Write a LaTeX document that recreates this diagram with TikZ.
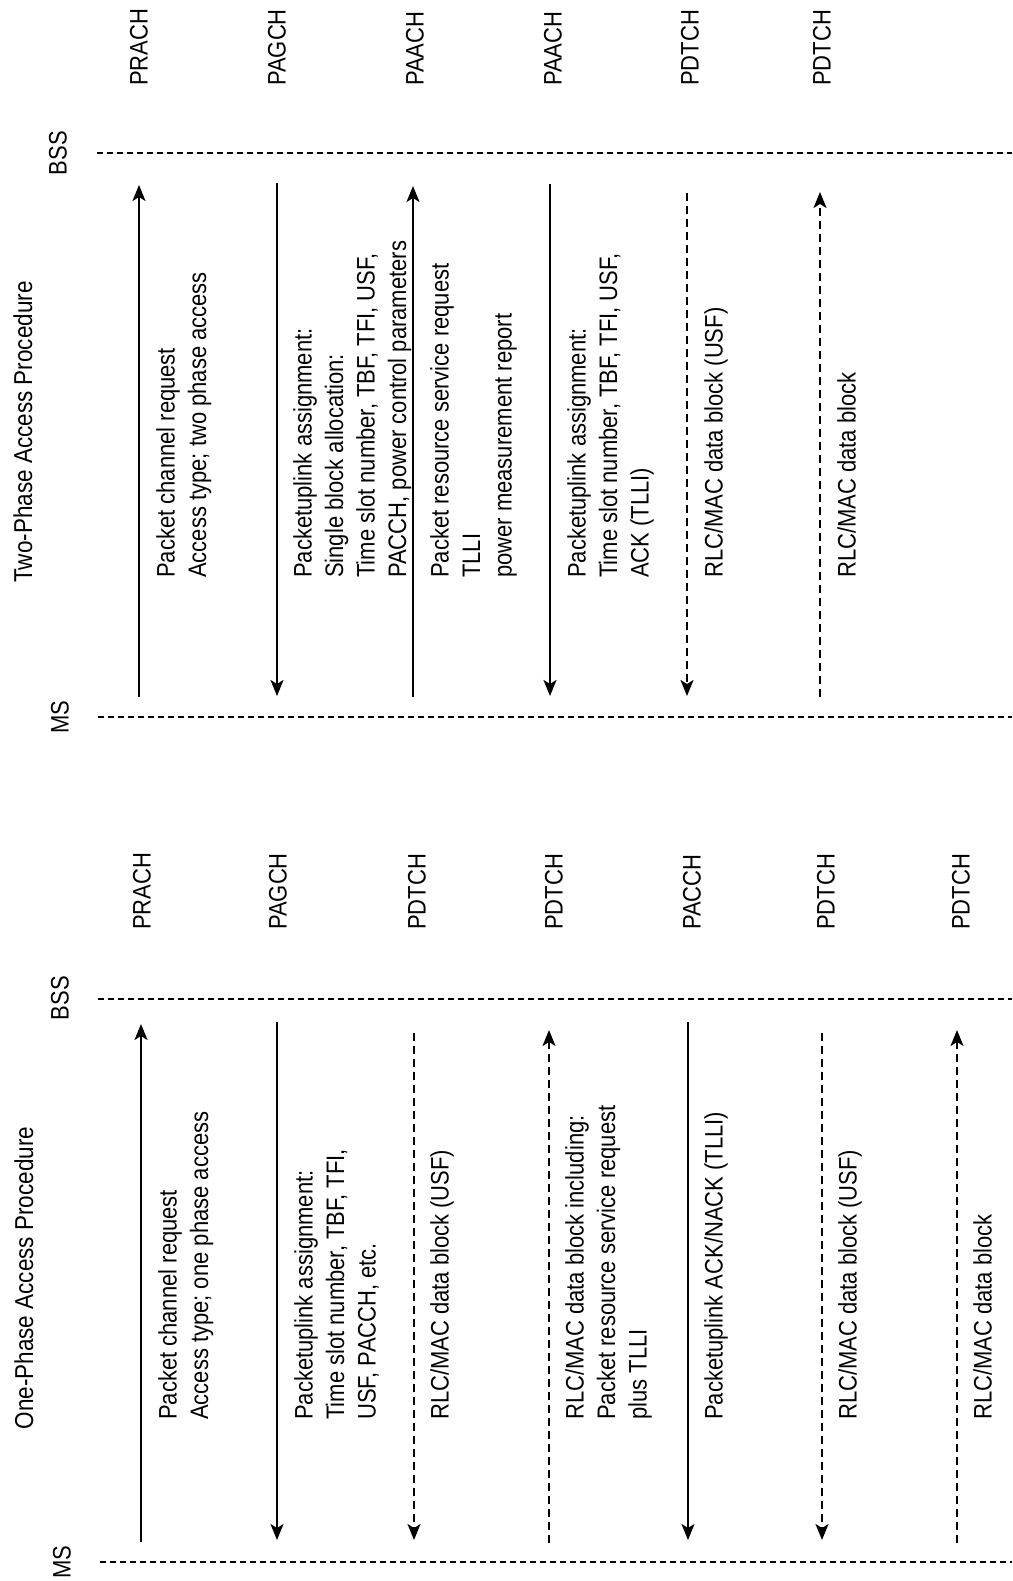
\documentclass[tikz,border=0pt]{standalone}
\usepackage{fontspec}
\setmainfont{Liberation Sans}
\usetikzlibrary{arrows.meta}

\begin{document}
\begin{tikzpicture}[x=1pt, y=-1pt,
  ttl/.style={rotate=90, yscale=1.15, inner sep=0pt, font=\fontsize{22.5}{26}\selectfont},
  ent/.style={rotate=90, yscale=1.15, inner sep=0pt, font=\fontsize{22}{26}\selectfont},
  chan/.style={rotate=90, yscale=1.15, anchor=west, inner sep=0pt, font=\fontsize{22}{26}\selectfont},
  msg/.style={rotate=90, yscale=1.15, anchor=north west, align=left, inner sep=0pt, font=\fontsize{22}{27.4}\selectfont},
  life/.style={line width=1.8pt, dash pattern=on 6pt off 4pt},
  arr/.style={-{Stealth[length=16pt, width=13pt, inset=4pt]}, line width=2pt},
  darr/.style={arr, dash pattern=on 8pt off 5pt},
]
\useasboundingbox (0,0) rectangle (1012,1581);

% two-phase access procedure (upper half)
\node[ttl] (ttlB) at (23,432) {Two-Phase Access Procedure};
\node[ent] (bssB) at (58,153) {BSS};
\node[ent] (msB)  at (60,717) {MS};
\coordinate (bssB0) at (97,153);  \coordinate (bssB1) at (1012,153);
\coordinate (msB0)  at (98,717);  \coordinate (msB1)  at (1012,717);
\draw[life] (bssB0) -- (bssB1);
\draw[life] (msB0) -- (msB1);

\node[chan] (chB1) at (139,86) {PRACH};
\node[chan] (chB2) at (277,86) {PAGCH};
\node[chan] (chB3) at (415,86) {PAACH};
\node[chan] (chB4) at (553,86) {PAACH};
\node[chan] (chB5) at (690,86) {PDTCH};
\node[chan] (chB6) at (822,86) {PDTCH};

\coordinate (aB1t) at (139,185); \coordinate (aB1m) at (139,697);
\coordinate (aB2t) at (277,183); \coordinate (aB2m) at (277,696);
\coordinate (aB3t) at (413,186); \coordinate (aB3m) at (413,697);
\coordinate (aB4t) at (550,184); \coordinate (aB4m) at (550,696);
\coordinate (aB5t) at (687,193); \coordinate (aB5m) at (687,696);
\coordinate (aB6t) at (820,192); \coordinate (aB6m) at (820,697);
\draw[arr]  (aB1m) -- (aB1t);
\draw[arr]  (aB2t) -- (aB2m);
\draw[arr]  (aB3m) -- (aB3t);
\draw[arr]  (aB4t) -- (aB4m);
\draw[darr] (aB5t) -- (aB5m);
\draw[darr] (aB6m) -- (aB6t);

\node[msg] (mB1) at (156,578) {Packet channel request\\Access type; two phase access};
\node[msg] (mB2) at (293,578) {Packetuplink assignment:\\Single block allocation:\\Time slot number, TBF, TFI, USF,\\PACCH, power control parameters};
\node[msg] (mB3) at (430,578) {Packet resource service request\\TLLI\\power measurement report};
\node[msg] (mB4) at (567,578) {Packetuplink assignment:\\Time slot number, TBF, TFI, USF,\\ACK (TLLI)};
\node[msg] (mB5) at (704,578) {RLC/MAC data block (USF)};
\node[msg] (mB6) at (837,578) {RLC/MAC data block};

% one-phase access procedure (lower half)
\node[ttl] (ttlA) at (24,1278) {One-Phase Access Procedure};
\node[ent] (bssA) at (60,998)  {BSS};
\node[ent] (msA)  at (62,1562) {MS};
\coordinate (bssA0) at (98,999);   \coordinate (bssA1) at (1012,999);
\coordinate (msA0)  at (100,1562); \coordinate (msA1)  at (1012,1562);
\draw[life] (bssA0) -- (bssA1);
\draw[life] (msA0) -- (msA1);

\node[chan] (chA1) at (142,930) {PRACH};
\node[chan] (chA2) at (278,930) {PAGCH};
\node[chan] (chA3) at (417,930) {PDTCH};
\node[chan] (chA4) at (554,930) {PDTCH};
\node[chan] (chA5) at (692,930) {PACCH};
\node[chan] (chA6) at (826,930) {PDTCH};
\node[chan] (chA7) at (961,930) {PDTCH};

\coordinate (aA1t) at (141,1024); \coordinate (aA1m) at (141,1542);
\coordinate (aA2t) at (277,1022); \coordinate (aA2m) at (277,1540);
\coordinate (aA3t) at (414,1033); \coordinate (aA3m) at (414,1540);
\coordinate (aA4t) at (549,1030); \coordinate (aA4m) at (549,1543);
\coordinate (aA5t) at (688,1022); \coordinate (aA5m) at (688,1540);
\coordinate (aA6t) at (822,1033); \coordinate (aA6m) at (822,1540);
\coordinate (aA7t) at (957,1030); \coordinate (aA7m) at (957,1543);
\draw[arr]  (aA1m) -- (aA1t);
\draw[arr]  (aA2t) -- (aA2m);
\draw[darr] (aA3t) -- (aA3m);
\draw[darr] (aA4m) -- (aA4t);
\draw[arr]  (aA5t) -- (aA5m);
\draw[darr] (aA6t) -- (aA6m);
\draw[darr] (aA7m) -- (aA7t);

\node[msg] (mA1) at (158,1420) {Packet channel request\\Access type; one phase access};
\node[msg] (mA2) at (294,1420) {Packetuplink assignment:\\Time slot number, TBF, TFI,\\USF, PACCH, etc.};
\node[msg] (mA3) at (430,1420) {RLC/MAC data block (USF)};
\node[msg] (mA4) at (565,1420) {RLC/MAC data block including:\\Packet resource service request\\plus TLLI};
\node[msg] (mA5) at (704,1420) {Packetuplink ACK/NACK (TLLI)};
\node[msg] (mA6) at (838,1420) {RLC/MAC data block (USF)};
\node[msg] (mA7) at (973,1420) {RLC/MAC data block};
\end{tikzpicture}
\end{document}
